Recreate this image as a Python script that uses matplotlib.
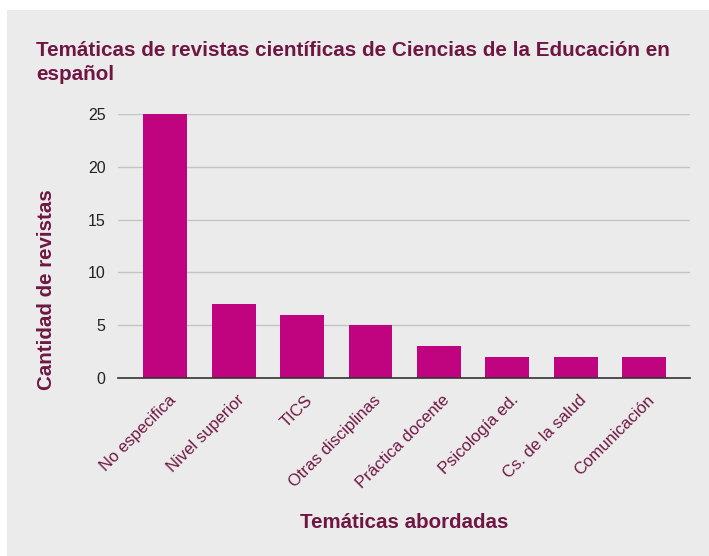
import matplotlib
matplotlib.use("Agg")
import matplotlib.pyplot as plt
import matplotlib.transforms as mtransforms
from matplotlib.patches import Rectangle

categories = ["No especifica", "Nivel superior", "TICS", "Otras disciplinas",
              "Práctica docente", "Psicología ed.", "Cs. de la salud", "Comunicación"]
values = [25, 7, 6, 5, 3, 2, 2, 2]
yticks = [0, 5, 10, 15, 20, 25]

plt.rcParams['font.family'] = ['Liberation Sans', 'DejaVu Sans']

W, H = 709, 556
fig = plt.figure(figsize=(W / 100, H / 100), dpi=100)
fig.patch.set_facecolor("white")
bg = Rectangle((7 / W, 0), 1 - 7 / W, 1 - 10 / H, transform=fig.transFigure,
               facecolor="#ebebeb", edgecolor="none", zorder=-10)
fig.add_artist(bg)

left, right = 118, 690
top, bottom = 114, 378
ax = fig.add_axes([left / W, 1 - bottom / H, (right - left) / W, (bottom - top) / H])
ax.set_zorder(5)
ax.set_facecolor("none")

maroon = "#6f1742"
x = list(range(len(categories)))
ax.bar(x, values, width=0.64, color="#c0047f", zorder=3)
ax.set_xlim(-0.69, len(categories) - 1 + 0.67)
ax.set_ylim(0, 25)
ax.set_yticks(yticks)
ax.set_yticklabels([str(t) for t in yticks], fontsize=11.5, color="#222222")
ax.yaxis.grid(True, color="#c4c4c4", linewidth=1, zorder=0)
ax.set_axisbelow(True)
ax.tick_params(axis="y", length=0, pad=9)
ax.tick_params(axis="x", length=0, pad=4)
for s in ["top", "right", "left"]:
    ax.spines[s].set_visible(False)
ax.spines["bottom"].set_color("#333333")
ax.spines["bottom"].set_linewidth(1.2)
ax.spines["bottom"].set_zorder(4)

ax.set_xticks(x)
ax.set_xticklabels(categories, rotation=45, ha="right", va="top",
                   rotation_mode="anchor", fontsize=12, color=maroon)
offset = mtransforms.ScaledTranslation(3 / 100, -9 / 100, fig.dpi_scale_trans)
for lbl in ax.get_xticklabels():
    lbl.set_transform(lbl.get_transform() + offset)

fig.text(36 / W, 1 - 41 / H, "Temáticas de revistas científicas de Ciencias de la Educación en\nespañol",
         fontsize=14.9, fontweight="bold", color=maroon, ha="left", va="top",
         linespacing=1.3)
fig.text(404 / W, 1 - 522 / H, "Temáticas abordadas", fontsize=14.8, fontweight="bold",
         color=maroon, ha="center", va="center")
fig.text(47 / W, 1 - 290 / H, "Cantidad de revistas", fontsize=14.8, fontweight="bold",
         color=maroon, ha="center", va="center", rotation=90)

fig.savefig("out.png", dpi=100)
